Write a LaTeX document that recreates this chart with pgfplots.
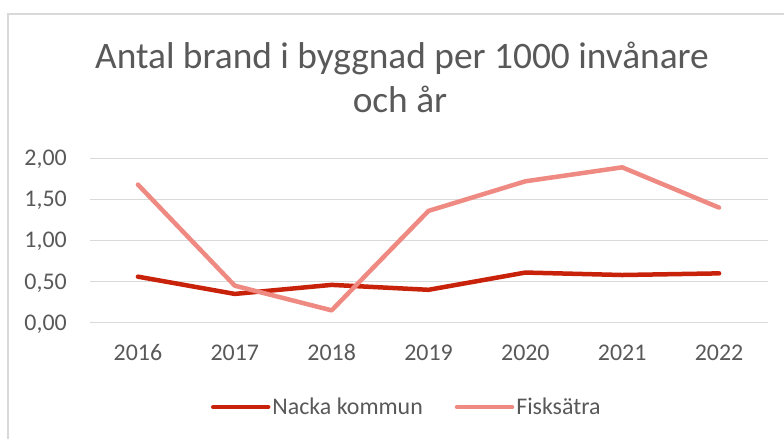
\documentclass[border=0pt]{standalone}
\usepackage{fontspec}
\setmainfont{Carlito}
\usepackage{pgfplots}
\pgfplotsset{compat=1.18}
\definecolor{nacka}{RGB}{200,35,10}
\definecolor{fisk}{RGB}{238,138,130}
\definecolor{txt}{RGB}{89,89,89}
\definecolor{grd}{RGB}{217,217,217}
\begin{document}
\begin{tikzpicture}[x=1bp,y=1bp]
\useasboundingbox (0,0) rectangle (784,439);
\clip (0,0) rectangle (784,439);
\fill[white] (0,0) rectangle (784,439);
\draw[grd, line width=1.5bp] (8,-20) -- (8,425) -- (800,425);
\node[anchor=base, text=txt, inner sep=0, font=\fontsize{37.5}{45}\selectfont] at (402,370) {Antal brand i byggnad per 1000 invånare};
\node[anchor=base, text=txt, inner sep=0, font=\fontsize{37.5}{45}\selectfont] at (400,326) {och år};
\begin{axis}[
  at={(89.5bp,116.3bp)}, anchor=south west,
  scale only axis, width=678bp, height=164.4bp,
  xmin=-0.5, xmax=6.5, ymin=0, ymax=2,
  xtick={0,1,2,3,4,5,6},
  xticklabels={2016,2017,2018,2019,2020,2021,2022},
  ytick={0,0.5,1,1.5,2},
  ymajorgrids,
  major grid style={grd, line width=1.5bp},
  axis line style={draw=none},
  major tick length=0pt,
  tick style={draw=none},
  ticklabel style={text=txt, font=\fontsize{24}{28}\selectfont, inner sep=0pt},
  xticklabel style={anchor=base, yshift=-38bp},
  yticklabel style={anchor=base east, xshift=-22.5bp, yshift=-7.5bp},
  /pgf/number format/.cd, use comma, fixed, fixed zerofill, precision=2, assume math mode=true,
  /pgfplots/.cd,
  clip=false,
  legend columns=2,
  legend style={draw=none, fill=none, at={(0.468,-0.513)}, anchor=center,
    text=txt, font=\fontsize{24}{28}\selectfont,
    /tikz/every even column/.append style={column sep=30bp}},
  legend image code/.code={\draw[#1] (0bp,0bp) -- (55bp,0bp);},
]
\addplot[nacka, line width=4.5bp, line cap=round, line join=round] coordinates {
 (0,0.56) (1,0.35) (2,0.46) (3,0.40) (4,0.61) (5,0.58) (6,0.60)};
\addlegendentry{Nacka kommun}
\addplot[fisk, line width=4.5bp, line cap=round, line join=round] coordinates {
 (0,1.68) (1,0.45) (2,0.15) (3,1.36) (4,1.72) (5,1.89) (6,1.40)};
\addlegendentry{Fisksätra}
\end{axis}
\end{tikzpicture}
\end{document}
